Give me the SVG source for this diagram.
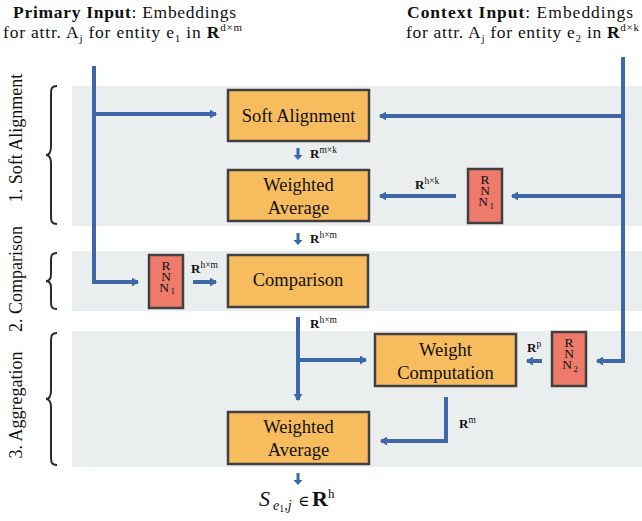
<svg xmlns="http://www.w3.org/2000/svg" width="642" height="521" viewBox="0 0 642 521" font-family="'Liberation Serif','DejaVu Serif',serif">
<defs>
<style>
.t{font-family:"Liberation Serif","DejaVu Serif",serif;fill:#111}
.bt{font-family:"Liberation Serif","DejaVu Serif",serif;fill:#111;font-size:18.5px;text-anchor:middle}
.rt{font-family:"Liberation Serif","DejaVu Serif",serif;fill:#111;font-size:13.5px;text-anchor:middle}
.box{fill:#F7BC5D;stroke:#404040;stroke-width:2.5}
.rnn{fill:#EE7A6C;stroke:#404040;stroke-width:2.5}
.band{fill:#EBEEEF}
.c{fill:none;stroke:#3D68A5;stroke-width:4}
.brace{fill:none;stroke:#2a2a2a;stroke-width:2}
.lbl{font-family:"Liberation Serif","DejaVu Serif",serif;font-size:13px;fill:#111}
.sup{font-size:9.5px}
</style>
<marker id="ah" markerUnits="userSpaceOnUse" markerWidth="7" markerHeight="9" refX="6" refY="4.5" orient="auto">
<path d="M0,0 L7,4.5 L0,9 z" fill="#3D68A5"/>
</marker>
</defs>
<rect width="642" height="521" fill="#fff"/>
<g id="bands">
<rect class="band" x="72" y="86" width="570" height="140"/>
<rect class="band" x="72" y="251" width="570" height="60"/>
<rect class="band" x="72" y="331" width="570" height="136"/>
</g>
<g id="headers">
<text class="t" x="13" y="18" font-size="17.5" textLength="223" lengthAdjust="spacing"><tspan font-weight="bold">Primary Input</tspan>: Embeddings</text>
<text class="t" x="3" y="38" font-size="17.5" textLength="239" lengthAdjust="spacing">for attr. A<tspan font-size="11" dy="4">j</tspan><tspan dy="-4"> for entity e</tspan><tspan font-size="11" dy="4">1</tspan><tspan dy="-4"> in </tspan><tspan font-weight="bold">R</tspan><tspan font-size="11" dy="-7">d×m</tspan></text>
<text class="t" x="407" y="18" font-size="17.5" textLength="226" lengthAdjust="spacing"><tspan font-weight="bold">Context Input</tspan>: Embeddings</text>
<text class="t" x="406" y="38" font-size="17.5" textLength="233" lengthAdjust="spacing">for attr. A<tspan font-size="11" dy="4">j</tspan><tspan dy="-4"> for entity e</tspan><tspan font-size="11" dy="4">2</tspan><tspan dy="-4"> in </tspan><tspan font-weight="bold">R</tspan><tspan font-size="11" dy="-7">d×k</tspan></text>
</g>
<g id="stages">
<text class="t" font-size="18" text-anchor="middle" transform="translate(22,138) rotate(-90)">1. Soft Alignment</text>
<text class="t" font-size="18" text-anchor="middle" transform="translate(22,279) rotate(-90)">2. Comparison</text>
<text class="t" font-size="18" text-anchor="middle" transform="translate(22,405) rotate(-90)">3. Aggregation</text>
<path class="brace" d="M57,86 C51,86 51,89 51,96 L51,146 C51,152 49,155 46,155 C49,155 51,158 51,164 L51,214 C51,221 51,224 57,224"/>
<path class="brace" d="M57,253 C51,253 51,256 51,261 L51,274 C51,279 49,281 46,281 C49,281 51,283 51,288 L51,301 C51,306 51,309 57,309"/>
<path class="brace" d="M57,333 C51,333 51,336 51,343 L51,390 C51,396 49,399 46,399 C49,399 51,402 51,408 L51,455 C51,462 51,465 57,465"/>
</g>
<g id="connectors">
<path class="c" d="M94,66 V282 H138" marker-end="url(#ah)"/>
<path class="c" d="M94,114 H216" marker-end="url(#ah)"/>
<path class="c" d="M623,57 V361 H597" marker-end="url(#ah)"/>
<path class="c" d="M623,116 H380" marker-end="url(#ah)"/>
<path class="c" d="M623,196 H512" marker-end="url(#ah)"/>
<path class="c" d="M456,196 H380" marker-end="url(#ah)"/>
<path class="c" d="M193,282 H216" marker-end="url(#ah)"/>
<path class="c" d="M298,317 V400" marker-end="url(#ah)"/>
<path class="c" d="M298,360 H366" marker-end="url(#ah)"/>
<path class="c" d="M446,397 V441 H381" marker-end="url(#ah)"/>
<path class="c" d="M542,361 H527" marker-end="url(#ah)"/>
<path d="M296.5,148 h3 v7 h3 l-4.5,5 l-4.5,-5 h3 z" fill="#3D68A5"/>
<path d="M296.5,233 h3 v7 h3 l-4.5,5 l-4.5,-5 h3 z" fill="#3D68A5"/>
<path d="M296.5,473 h3 v7 h3 l-4.5,5 l-4.5,-5 h3 z" fill="#3D68A5"/>
</g>
<g id="edge-labels">
<text class="lbl" x="310" y="158"><tspan font-weight="bold">R</tspan><tspan class="sup" dy="-5">m×k</tspan></text>
<text class="lbl" x="310" y="243"><tspan font-weight="bold">R</tspan><tspan class="sup" dy="-5">h×m</tspan></text>
<text class="lbl" x="310" y="328"><tspan font-weight="bold">R</tspan><tspan class="sup" dy="-5">h×m</tspan></text>
<text class="lbl" x="415" y="189"><tspan font-weight="bold">R</tspan><tspan class="sup" dy="-5">h×k</tspan></text>
<text class="lbl" x="191" y="273"><tspan font-weight="bold">R</tspan><tspan class="sup" dy="-5">h×m</tspan></text>
<text class="lbl" x="527" y="352"><tspan font-weight="bold">R</tspan><tspan class="sup" dy="-5">p</tspan></text>
<text class="lbl" x="459" y="428"><tspan font-weight="bold">R</tspan><tspan class="sup" dy="-5">m</tspan></text>
</g>
<g id="soft-alignment">
<rect class="box" x="228" y="90" width="141" height="51"/>
<text class="bt" x="298.5" y="122">Soft Alignment</text>
</g>
<g id="weighted-average-1">
<rect class="box" x="228" y="170" width="141" height="51"/>
<text class="bt" x="298.5" y="191">Weighted</text>
<text class="bt" x="298.5" y="214">Average</text>
</g>
<g id="comparison">
<rect class="box" x="228" y="255" width="140" height="52"/>
<text class="bt" x="298" y="286">Comparison</text>
</g>
<g id="weight-computation">
<rect class="box" x="375" y="334" width="141" height="52"/>
<text class="bt" x="445.5" y="356">Weight</text>
<text class="bt" x="445.5" y="379">Computation</text>
</g>
<g id="weighted-average-2">
<rect class="box" x="228" y="412" width="141" height="52"/>
<text class="bt" x="298.5" y="433">Weighted</text>
<text class="bt" x="298.5" y="456">Average</text>
</g>
<g id="rnn1-left">
<rect class="rnn" x="149" y="255" width="34" height="53"/>
<text class="rt"><tspan x="166" y="269.5">R</tspan><tspan x="166" y="280.5">N</tspan><tspan x="164" y="291.5">N</tspan></text>
<text class="t" font-size="9" x="170.5" y="294">1</text>
</g>
<g id="rnn1-right">
<rect class="rnn" x="468" y="169" width="34" height="54"/>
<text class="rt"><tspan x="485" y="184">R</tspan><tspan x="485" y="195">N</tspan><tspan x="483" y="206">N</tspan></text>
<text class="t" font-size="9" x="489.5" y="208.5">1</text>
</g>
<g id="rnn2">
<rect class="rnn" x="552" y="332" width="34" height="54"/>
<text class="rt"><tspan x="569" y="347">R</tspan><tspan x="569" y="358">N</tspan><tspan x="567" y="369">N</tspan></text>
<text class="t" font-size="9" x="573.5" y="371.5">2</text>
</g>
<g id="output">
<text class="t" y="506" font-size="22"><tspan x="259" font-style="italic">S</tspan><tspan x="273" font-size="14" font-style="italic" dy="4">e</tspan><tspan font-size="10" dy="2">1</tspan><tspan font-size="14" font-style="italic" dy="-2">,j</tspan><tspan x="298" dy="-4" font-size="15">∈</tspan><tspan x="312" font-weight="bold">R</tspan><tspan font-size="13" dy="-8">h</tspan></text>
</g>
</svg>
